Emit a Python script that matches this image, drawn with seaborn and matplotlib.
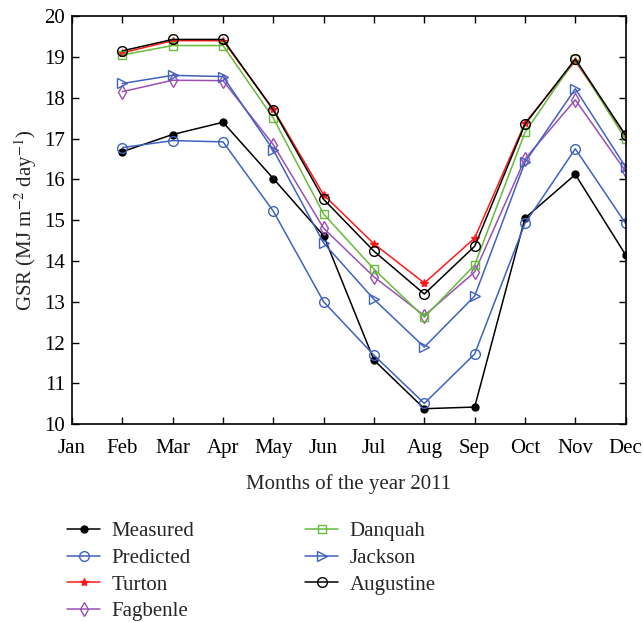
import matplotlib
matplotlib.use("Agg")
import matplotlib.pyplot as plt
import seaborn as sns
import pandas as pd

months = ["Jan", "Feb", "Mar", "Apr", "May", "Jun", "Jul", "Aug", "Sep", "Oct", "Nov", "Dec"]
data_months = months[1:]

measured  = [16.68, 17.10, 17.40, 16.02, 14.62, 11.57, 10.38, 10.42, 15.05, 16.12, 14.15]
predicted = [16.78, 16.95, 16.92, 15.22, 13.00, 11.69, 10.51, 11.72, 14.92, 16.75, 14.92]
turton    = [19.10, 19.40, 19.40, 17.72, 15.62, 14.42, 13.46, 14.56, 17.38, 18.90, 17.08]
fagbenle  = [18.15, 18.43, 18.42, 16.85, 14.80, 13.61, 12.66, 13.73, 16.50, 17.95, 16.20]
danquah   = [19.05, 19.28, 19.28, 17.50, 15.15, 13.80, 12.62, 13.90, 17.15, 18.95, 16.98]
jackson   = [18.35, 18.55, 18.52, 16.72, 14.44, 13.06, 11.89, 13.14, 16.42, 18.22, 16.30]
augustine = [19.15, 19.43, 19.43, 17.70, 15.51, 14.24, 13.19, 14.36, 17.35, 18.95, 17.08]

series = {
    "Measured": measured,
    "Predicted": predicted,
    "Turton": turton,
    "Fagbenle": fagbenle,
    "Danquah": danquah,
    "Jackson": jackson,
    "Augustine": augustine,
}
styles = {
    "Measured":  dict(color="black",   marker="o", ms=5,   mfc="black"),
    "Predicted": dict(color="#3f62c0", marker="o", ms=7,   mfc="none"),
    "Turton":    dict(color="#ff1a1a", marker="*", ms=6,   mfc="#ff1a1a"),
    "Fagbenle":  dict(color="#9b4fb3", marker="d", ms=7.5, mfc="none"),
    "Danquah":   dict(color="#66bb3a", marker="s", ms=6,   mfc="none"),
    "Jackson":   dict(color="#3f62c0", marker=">", ms=7,   mfc="none"),
    "Augustine": dict(color="black",   marker="o", ms=7,   mfc="none"),
}

FS = 15

sns.set_theme(style="ticks")
plt.rcParams["font.family"] = ["Liberation Serif", "DejaVu Serif"]
plt.rcParams["mathtext.fontset"] = "stix"

fig = plt.figure(figsize=(6.43, 6.22), dpi=100)
ax = fig.add_axes([0.112, 0.318, 0.861, 0.656])

xpos = list(range(1, 12))
for name, vals in series.items():
    st = styles[name]
    df = pd.DataFrame({"x": xpos, "y": vals})
    sns.lineplot(data=df, x="x", y="y", ax=ax, color=st["color"], lw=1.1,
                 marker=st["marker"], markersize=st["ms"],
                 markerfacecolor=st["mfc"], markeredgecolor=st["color"],
                 markeredgewidth=1.0, label=name)

ax.set_xlim(0, 11)
ax.set_ylim(10, 20)
ax.set_xticks(range(12))
ax.set_xticklabels(months)
ax.set_yticks(range(10, 21))
ax.tick_params(direction="in", length=5, width=1, labelsize=FS, top=True, right=True,
               colors="black")
ax.tick_params(axis="x", pad=11)
ax.tick_params(axis="y", pad=5)
for s in ax.spines.values():
    s.set_linewidth(1.2)
    s.set_color("black")
ax.set_xlabel("Months of the year 2011", fontsize=FS, labelpad=11)
ax.set_ylabel(r"GSR (MJ m$^{-2}$ day$^{-1}$)", fontsize=FS, labelpad=4)

handles, labels = ax.get_legend_handles_labels()
ax.legend(handles, labels, ncol=2, frameon=False, fontsize=FS,
          loc="upper left", bbox_to_anchor=(-0.043, -0.193),
          handlelength=1.6, columnspacing=5.3, labelspacing=0.34, handletextpad=0.55)

fig.savefig("out.png", dpi=100)
